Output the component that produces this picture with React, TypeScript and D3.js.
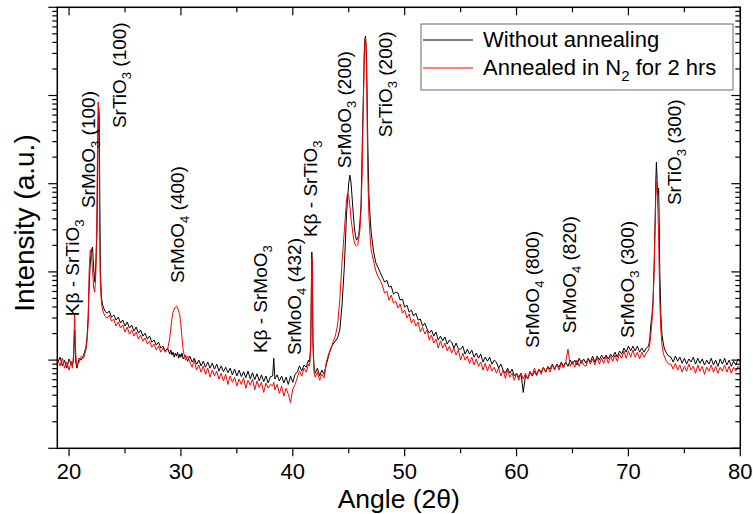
import React from 'react';
import * as d3 from 'd3';

// 2θ sampling positions (degrees)
const ANGLES: number[] = [
  19.0, 19.2, 19.4, 19.6, 19.8, 20.0, 20.2,
  20.3, 20.4, 20.5, 20.6, 20.7, 20.9, 21.1, 21.3, 21.5, 21.6, 21.7, 21.8, 21.9, 22.0, 22.1, 22.2, 22.3, 22.4, 22.5, 22.55, 22.6, 22.65, 22.7, 22.75, 22.8, 22.9, 23.0, 23.1, 23.2,
  23.4, 23.6, 23.8, 24.0, 24.2, 24.4, 24.6, 24.8, 25.0, 25.2, 25.4, 25.6, 25.8, 26.0, 26.2, 26.4, 26.6, 26.8, 27.0, 27.2, 27.4, 27.6, 27.8, 28.0, 28.2, 28.4,
  28.6, 28.8, 29.0, 29.1, 29.2, 29.3, 29.4, 29.5, 29.6, 29.7, 29.8, 29.9, 30.0, 30.1, 30.2, 30.4, 30.6,
  30.8, 31.0, 31.2, 31.4, 31.6, 31.8, 32.0, 32.2, 32.4, 32.6, 32.8, 33.0, 33.2, 33.4, 33.6, 33.8, 34.0, 34.2, 34.4, 34.6, 34.8, 35.0, 35.2, 35.4, 35.6, 35.8, 36.0, 36.2, 36.4, 36.6, 36.8, 37.0, 37.2, 37.4, 37.6, 37.8, 38.0,
  38.2, 38.3, 38.4, 38.6, 38.8, 39.0, 39.2, 39.4, 39.6, 39.8, 40.0, 40.2, 40.4, 40.6, 40.8, 41.0, 41.2, 41.4,
  41.5, 41.6, 41.7, 41.75, 41.8, 41.9, 42.0, 42.2, 42.4, 42.6, 42.8, 43.0, 43.2, 43.4, 43.6, 43.8, 44.0, 44.2, 44.4, 44.6, 44.8, 44.9, 45.0, 45.1, 45.2, 45.3, 45.4, 45.5, 45.6, 45.7, 45.8, 45.9, 46.0, 46.1, 46.2, 46.3, 46.35, 46.4, 46.45, 46.5, 46.55, 46.6, 46.7, 46.8, 46.9, 47.0, 47.2, 47.4, 47.6, 47.8, 48.0,
  48.2, 48.4, 48.6, 48.8, 49.0, 49.2, 49.4, 49.6, 49.8, 50.0,
  50.2, 50.4, 50.6, 50.8, 51.0, 51.2, 51.4, 51.6, 51.8, 52.0,
  52.2, 52.4, 52.6, 52.8, 53.0, 53.2, 53.4, 53.6, 53.8, 54.0,
  54.2, 54.4, 54.6, 54.8, 55.0, 55.2, 55.4, 55.6, 55.8, 56.0,
  56.2, 56.4, 56.6, 56.8, 57.0, 57.2, 57.4, 57.6, 57.8, 58.0,
  58.2, 58.4, 58.6, 58.8, 59.0, 59.2, 59.4, 59.6, 59.8, 60.0,
  60.2, 60.4, 60.6, 60.8, 61.0, 61.2, 61.4, 61.6, 61.8, 62.0,
  62.2, 62.4, 62.6, 62.8, 63.0, 63.2, 63.4, 63.6, 63.8, 64.0,
  64.2, 64.4, 64.6, 64.8, 65.0, 65.2, 65.4, 65.6, 65.8, 66.0,
  66.2, 66.4, 66.6, 66.8, 67.0, 67.2, 67.4, 67.6, 67.8, 68.0,
  68.2, 68.4, 68.6, 68.8, 69.0, 69.2, 69.4, 69.6, 69.8, 70.0,
  70.2, 70.4, 70.6, 70.8, 71.0, 71.2, 71.4,
  71.6, 71.8, 71.9, 72.0, 72.1, 72.2, 72.3, 72.4, 72.45, 72.5, 72.55, 72.6, 72.65, 72.7, 72.75, 72.8, 72.9, 73.0, 73.1, 73.2, 73.4, 73.6,
  73.8, 74.0, 74.2, 74.4, 74.6, 74.8, 75.0, 75.2, 75.4, 75.6, 75.8, 76.0, 76.2, 76.4, 76.6, 76.8, 77.0, 77.2, 77.4, 77.6, 77.8, 78.0, 78.2, 78.4, 78.6, 78.8, 79.0, 79.2, 79.4, 79.6, 79.8, 80.0,
];

// Intensity (a.u.), without annealing
const WITHOUT_ANNEALING: number[] = [
  95, 108, 86, 100, 81, 103, 90,
  88, 100, 219, 95, 81, 105, 100, 114, 137, 178, 285, 709, 1290, 1770, 1910, 1104, 766, 1290, 2980, 14260, 46200, 72000, 60000, 6520, 1048, 505, 421, 389, 360,
  341, 359, 307, 324, 285, 307, 263, 285, 243, 270, 231, 250, 213, 237, 202, 219, 187, 202, 173, 187, 160, 169, 148, 160, 137, 144,
  126, 137, 117, 130, 114, 123, 108, 120, 111, 123, 105, 117, 108, 120, 103, 114, 97,
  111, 95, 105, 90, 100, 86, 97, 83, 95, 81, 92, 79, 90, 75, 86, 74, 83, 72, 81, 68, 79, 66, 77, 65, 74, 63, 75, 61, 72, 60, 70, 58, 68, 57, 66, 55, 65,
  66, 105, 61, 68, 58, 66, 55, 64, 53, 66, 56, 69, 73, 86, 75, 88, 83, 100,
  95, 148, 1677, 1104, 169, 81, 71, 81, 66, 77, 69, 90, 111, 137, 152, 164, 178, 219, 421, 1104, 4405, 6870, 10160, 12520, 10430, 7050, 4640, 3220, 2550, 2290, 2420, 2610, 3670, 5720, 24000, 88700, 170300, 327300, 447600, 471300, 372600, 239200, 31200, 7430, 4405, 2830, 1770, 1290, 1134, 995, 873,
  766, 807, 673, 690, 560, 590, 575, 479, 492, 399,
  421, 350, 369, 316, 341, 284, 292, 243, 263, 225,
  203, 219, 187, 208, 169, 187, 165, 183, 152, 169,
  160, 137, 156, 133, 133, 144, 117, 133, 117, 130,
  108, 120, 105, 117, 95, 108, 97, 108, 90, 100,
  95, 81, 90, 77, 71, 81, 71, 79, 66, 71,
  64, 71, 43, 67, 61, 73, 66, 75, 67, 79,
  73, 83, 73, 85, 79, 90, 79, 90, 83, 95,
  85, 95, 85, 100, 90, 100, 88, 105, 92, 103,
  92, 105, 95, 111, 95, 111, 100, 114, 103, 114,
  103, 117, 108, 123, 108, 127, 117, 137, 123, 144,
  127, 144, 127, 144, 123, 137, 123,
  137, 144, 169, 250, 316, 479, 1194, 4405, 10990, 17580, 12520, 7430, 8030, 8920, 3870, 1048, 324, 192, 160, 137, 120, 111,
  108, 95, 111, 97, 108, 92, 105, 90, 103, 95, 108, 90, 105, 92, 103, 88, 100, 90, 105, 88, 100, 85, 103, 90, 105, 88, 100, 85, 97, 88, 103, 95,
];

// Intensity (a.u.), annealed in N2 for 2 hrs
const ANNEALED_N2: number[] = [
  100, 86, 105, 81, 95, 77, 97,
  81, 114, 332, 114, 86, 95, 111, 105, 130, 160, 250, 1048, 1770, 1550, 1048, 655, 590, 995, 6520, 31200, 84200, 60000, 10990, 1770, 709, 443, 369, 341, 316,
  299, 324, 277, 292, 243, 270, 231, 250, 208, 237, 197, 219, 187, 208, 173, 192, 164, 178, 152, 164, 140, 152, 130, 144, 123, 137,
  123, 130, 178, 231, 299, 350, 379, 399, 409, 389, 359, 324, 250, 178, 130, 100, 111,
  95, 83, 100, 77, 88, 73, 86, 69, 81, 64, 77, 66, 75, 61, 71, 58, 69, 53, 66, 56, 64, 51, 61, 53, 63, 48, 59, 52, 61, 46, 58, 49, 56, 43, 55, 48, 53,
  51, 56, 46, 53, 42, 51, 39, 48, 41, 33, 47, 53, 63, 75, 66, 81, 73, 90,
  86, 130, 1434, 1290, 148, 73, 64, 73, 59, 69, 63, 95, 117, 133, 160, 187, 250, 480, 1290, 2830, 6520, 7820, 7230, 5720, 4070, 3220, 2550, 2180, 2010, 1960, 2010, 2420, 2980, 5020, 13190, 73900, 149600, 327300, 424900, 447600, 327300, 170300, 13190, 4405, 2610, 1770, 1360, 1048, 896, 807, 709,
  575, 606, 479, 546, 443, 467, 389, 432, 341, 369,
  300, 333, 263, 292, 243, 270, 208, 237, 197, 219,
  169, 192, 156, 173, 137, 165, 137, 156, 127, 144,
  120, 137, 114, 130, 100, 120, 100, 111, 92, 108,
  88, 103, 85, 95, 77, 92, 75, 90, 75, 83,
  71, 81, 66, 77, 62, 77, 64, 71, 59, 71,
  59, 71, 61, 71, 61, 75, 67, 81, 69, 79,
  69, 83, 73, 83, 73, 88, 77, 90, 77, 90,
  81, 95, 133, 85, 97, 83, 100, 85, 100, 88,
  85, 103, 90, 103, 88, 108, 90, 105, 92, 111,
  92, 111, 97, 114, 97, 117, 105, 127, 105, 127,
  108, 130, 108, 123, 103, 123, 108,
  120, 130, 148, 192, 270, 421, 1048, 3870, 7430, 10430, 9900, 6520, 4405, 2290, 1048, 480, 219, 148, 123, 111, 97, 90,
  90, 79, 92, 77, 88, 73, 85, 75, 90, 77, 85, 71, 88, 75, 85, 69, 83, 75, 88, 73, 85, 71, 83, 75, 88, 73, 85, 71, 83, 75, 85, 79,
];

const X_TICKS = [20, 30, 40, 50, 60, 70, 80];
const X_MINOR_TICKS = [25, 35, 45, 55, 65, 75];
const Y_DECADES = [10, 100, 1000, 10000, 100000, 1000000];

const SERIES_LABELS = ['Without annealing', 'Annealed in N', '2', ' for 2 hrs'];
const SERIES_COLORS = ['#000000', '#ff0000'];

// Peak annotations: text parts and anchor position in data coordinates
const PEAK_TEXT = ['Kβ - SrTiO', 'SrMoO', 'SrTiO', 'SrMoO', 'Kβ - SrMoO', 'SrMoO', 'Kβ - SrTiO', 'SrMoO', 'SrTiO', 'SrMoO', 'SrMoO', 'SrMoO', 'SrTiO'];
const PEAK_SUB = ['3', '3', '3', '4', '3', '4', '3', '3', '3', '4', '4', '3', '3'];
const PEAK_HKL = ['', ' (100)', ' (100)', ' (400)', '', ' (432)', '', ' (200)', ' (200)', ' (800)', ' (820)', ' (300)', ' (300)'];
const PEAK_LABEL_ANGLE = [20.85, 22.28, 25.05, 30.31, 37.72, 40.76, 42.19, 45.22, 48.88, 62.01, 65.31, 70.49, 74.69];
const PEAK_LABEL_INTENSITY = [315, 5290, 42700, 746, 120, 114, 2480, 15000, 33700, 137, 202, 178, 5720];

const FONT = '"Liberation Sans", Arial, sans-serif';

export default function App() {
  const W = 753;
  const H = 514;
  const left = 57.3, right = 740.3, top = 7.3, bottom = 448.3;

  const x = d3.scaleLinear().domain([18.95, 80]).range([left, right]);
  const y = d3.scaleLog().domain([10, 1e6]).range([bottom, top]);

  const n = Math.min(ANGLES.length, WITHOUT_ANNEALING.length, ANNEALED_N2.length);
  const idx = d3.range(n);
  const line = (vals: number[]) =>
    d3.line<number>().x((i) => x(ANGLES[i])).y((i) => y(vals[i]))(idx) || '';

  const yMinor: number[] = [];
  Y_DECADES.slice(0, -1).forEach((d) => {
    for (let m = 2; m <= 9; m++) yMinor.push(d * m);
  });

  const tickStroke = { stroke: '#000', strokeWidth: 1.2 };

  return (
    <svg width={W} height={H} style={{ position: 'absolute', left: 0, top: 0, background: '#fff' }} fontFamily={FONT}>
      <rect x={0} y={0} width={W} height={H} fill="#fff" />

      {/* data */}
      <path d={line(WITHOUT_ANNEALING)} fill="none" stroke={SERIES_COLORS[0]} strokeWidth={1} strokeLinejoin="round" />
      <path d={line(ANNEALED_N2)} fill="none" stroke={SERIES_COLORS[1]} strokeWidth={1} strokeLinejoin="round" />

      {/* frame */}
      <rect x={left} y={top} width={right - left} height={bottom - top} fill="none" stroke="#000" strokeWidth={1.5} />

      {/* x ticks bottom (outward) and top (inward) */}
      {X_TICKS.map((t) => (
        <g key={'xt' + t}>
          <line x1={x(t)} x2={x(t)} y1={bottom} y2={bottom + 8} {...tickStroke} />
          <line x1={x(t)} x2={x(t)} y1={top} y2={top + 8} {...tickStroke} />
          <text x={x(t)} y={479} fontSize={22} textAnchor="middle" fill="#000">{t}</text>
        </g>
      ))}
      {X_MINOR_TICKS.map((t) => (
        <g key={'xm' + t}>
          <line x1={x(t)} x2={x(t)} y1={bottom} y2={bottom + 5} {...tickStroke} />
          <line x1={x(t)} x2={x(t)} y1={top} y2={top + 5} {...tickStroke} />
        </g>
      ))}

      {/* y ticks left (outward) and right (inward) */}
      {Y_DECADES.map((d) => (
        <g key={'yd' + d}>
          <line x1={left - 9} x2={left} y1={y(d)} y2={y(d)} {...tickStroke} />
          <line x1={right - 9} x2={right} y1={y(d)} y2={y(d)} {...tickStroke} />
        </g>
      ))}
      {yMinor.map((d) => (
        <g key={'ym' + d}>
          <line x1={left - 5} x2={left} y1={y(d)} y2={y(d)} {...tickStroke} />
          <line x1={right - 5} x2={right} y1={y(d)} y2={y(d)} {...tickStroke} />
        </g>
      ))}

      {/* axis titles */}
      <text x={(left + right) / 2} y={508} fontSize={26.5} textAnchor="middle" fill="#000">Angle (2θ)</text>
      <text transform="translate(34,223) rotate(-90)" fontSize={28} textAnchor="middle" fill="#000">Intensity (a.u.)</text>

      {/* peak labels */}
      {PEAK_TEXT.map((t, i) => (
        <text
          key={'pk' + i}
          transform={`translate(${x(PEAK_LABEL_ANGLE[i])},${y(PEAK_LABEL_INTENSITY[i])}) rotate(-90)`}
          fontSize={19}
          fill="#000"
        >
          {t}
          <tspan fontSize={13} dy={5}>{PEAK_SUB[i]}</tspan>
          {PEAK_HKL[i] ? <tspan dy={-5}>{PEAK_HKL[i]}</tspan> : null}
        </text>
      ))}

      {/* legend */}
      <rect x={421} y={24} width={312} height={66} fill="#fff" stroke="#6b6b6b" strokeWidth={1} />
      <line x1={423} x2={473} y1={40} y2={40} stroke={SERIES_COLORS[0]} strokeWidth={1} />
      <line x1={423} x2={473} y1={68} y2={68} stroke={SERIES_COLORS[1]} strokeWidth={1} />
      <text x={483} y={47} fontSize={22} fill="#000">{SERIES_LABELS[0]}</text>
      <text x={483} y={75} fontSize={22} fill="#000">
        {SERIES_LABELS[1]}
        <tspan fontSize={15} dy={6}>{SERIES_LABELS[2]}</tspan>
        <tspan dy={-6}>{SERIES_LABELS[3]}</tspan>
      </text>
    </svg>
  );
}
